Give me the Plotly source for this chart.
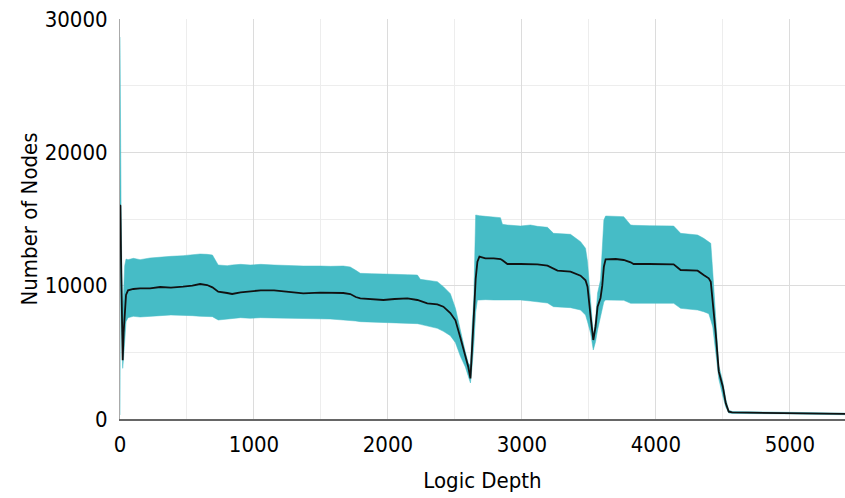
import plotly.graph_objects as go

# Logic depth samples and node counts: band upper edge, mean, band lower edge
depth = [0, 3, 8, 14, 20, 27, 35, 45, 60, 100, 150, 224, 300, 380, 471, 540, 598, 650, 690,
         733, 800, 837, 900, 972, 1050, 1150, 1271, 1368, 1495, 1570, 1667, 1719, 1760, 1794,
         1880, 1966, 2050, 2145, 2220, 2242, 2294, 2369, 2414, 2466, 2504, 2541, 2578, 2600,
         2616, 2628, 2641, 2655, 2668, 2683, 2728, 2790, 2840, 2855, 2892, 2990, 3064, 3116,
         3191, 3236, 3266, 3363, 3438, 3475, 3490, 3513, 3533, 3550, 3565, 3587, 3600, 3612,
         3625, 3700, 3760, 3812, 3834, 3950, 4050, 4133, 4185, 4250, 4312, 4357, 4395, 4410,
         4425, 4447, 4470, 4500, 4522, 4544, 4570, 5000, 5412]

nodes_upper = [28650, 19650, 16000, 11000, 8400, 9500, 11500, 12000, 11950, 12050, 11950, 12075,
               12150, 12200, 12250, 12300, 12375, 12350, 12300, 11550, 11500, 11550, 11600, 11550,
               11600, 11550, 11500, 11475, 11475, 11450, 11475, 11400, 11150, 10925, 10900, 10850,
               10850, 10825, 10800, 10475, 10400, 10300, 9925, 9400, 8300, 6550, 5025, 4200, 4000,
               6900, 9000, 15300, 15300, 15250, 15200, 15150, 15100, 14600, 14550, 14475, 14550,
               14450, 14375, 13925, 13900, 13850, 13300, 12800, 11800, 8800, 6300, 7425, 9450,
               10425, 13000, 14925, 15225, 15200, 15175, 14550, 14525, 14500, 14500, 14475, 13925,
               13875, 13800, 13550, 13250, 13175, 11000, 7500, 4000, 2800, 1500, 675, 560, 500, 440]

nodes_mean = [16050, 16000, 12000, 7000, 4400, 6500, 8300, 9300, 9650, 9750, 9800, 9800, 9900,
              9850, 9925, 10000, 10125, 10050, 9875, 9550, 9450, 9375, 9500, 9550, 9650, 9650,
              9550, 9425, 9475, 9475, 9450, 9375, 9150, 9050, 8975, 8925, 9000, 9050, 8925, 8850,
              8675, 8600, 8425, 7950, 7400, 6100, 4800, 3900, 3050, 5000, 7675, 10500, 11800,
              12175, 12050, 12050, 12000, 11900, 11625, 11625, 11625, 11600, 11500, 11250, 11125,
              11050, 10750, 10400, 9925, 7675, 5925, 6925, 8425, 9075, 10000, 11425, 11975, 12000,
              11925, 11750, 11625, 11625, 11625, 11600, 11175, 11150, 11125, 10800, 10550, 10300,
              8925, 6425, 3550, 2425, 1175, 550, 490, 440, 380]

nodes_lower = [300, 12000, 8500, 4800, 3800, 4600, 6200, 7300, 7600, 7700, 7650, 7675, 7750, 7800,
               7800, 7750, 7700, 7700, 7675, 7425, 7500, 7550, 7600, 7550, 7600, 7575, 7550, 7525,
               7550, 7500, 7425, 7400, 7350, 7300, 7275, 7250, 7225, 7200, 7150, 7100, 7000, 6800,
               6575, 6250, 5725, 4700, 3900, 3100, 2700, 3900, 5500, 8000, 8925, 8925, 8950, 8925,
               8925, 8900, 8900, 8925, 8850, 8800, 8700, 8425, 8400, 8350, 8175, 7800, 7300, 6425,
               5175, 5800, 6675, 7675, 8300, 8800, 8925, 8925, 8900, 8675, 8675, 8700, 8675, 8675,
               8300, 8225, 8175, 8050, 7900, 7425, 6900, 5000, 3000, 1700, 900, 450, 420, 380, 320]

x_ticks = [0, 1000, 2000, 3000, 4000, 5000]
y_ticks = [0, 10000, 20000, 30000]

band_color = "rgb(70,188,198)"
font_family = "DejaVu Sans Condensed, DejaVu Sans"
text_font = dict(family=font_family, size=22, color="black")

fig = go.Figure()

fig.add_trace(go.Scatter(
    x=depth, y=nodes_upper, mode="lines",
    line=dict(color=band_color, width=0.5),
    showlegend=False, hoverinfo="skip",
))
fig.add_trace(go.Scatter(
    x=depth, y=nodes_lower, mode="lines",
    line=dict(color=band_color, width=0.5),
    fill="tonexty", fillcolor=band_color,
    showlegend=False, hoverinfo="skip",
))
fig.add_trace(go.Scatter(
    x=depth, y=nodes_mean, mode="lines",
    line=dict(color="#111111", width=1.8),
    showlegend=False,
))

fig.update_layout(
    width=845, height=498,
    margin=dict(l=120, r=0, t=19, b=79),
    plot_bgcolor="white", paper_bgcolor="white",
    font=text_font,
    xaxis=dict(
        range=[0, 5412],
        tickmode="array", tickvals=x_ticks, ticktext=[str(v) for v in x_ticks],
        showgrid=True, gridcolor="#dcdcdc", gridwidth=1,
        minor=dict(dtick=500, showgrid=True, gridcolor="#ededed", gridwidth=1),
        showline=True, linecolor="#666666", linewidth=1.5,
        zeroline=False, ticks="",
        tickfont=text_font,
        ticklabelstandoff=5,
        title=dict(text="Logic Depth", font=text_font, standoff=16),
    ),
    yaxis=dict(
        range=[0, 30000],
        tickmode="array", tickvals=y_ticks, ticktext=[str(v) for v in y_ticks],
        showgrid=True, gridcolor="#dcdcdc", gridwidth=1,
        minor=dict(dtick=5000, showgrid=True, gridcolor="#ededed", gridwidth=1),
        showline=True, linecolor="#aaaaaa", linewidth=1,
        zeroline=False, ticks="",
        tickfont=text_font,
        ticklabelstandoff=7,
        title=dict(text="Number of Nodes", font=text_font, standoff=0),
    ),
)

fig.write_html("out.html")
